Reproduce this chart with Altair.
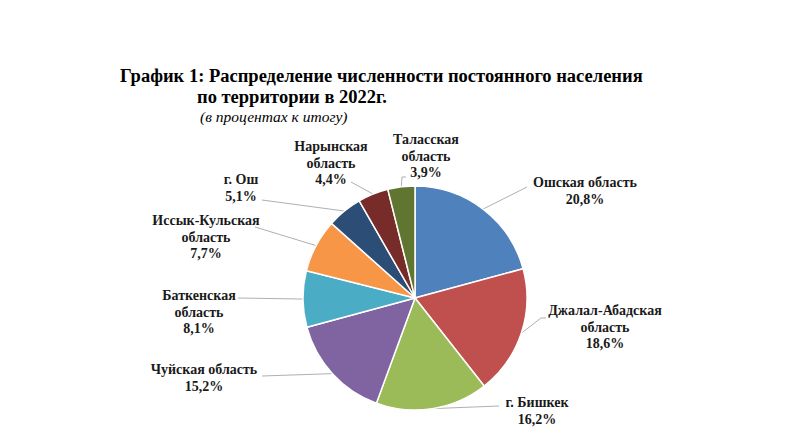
import math
import altair as alt
import pandas as pd

# ---- data ----
regions = ["Ошская область", "Джалал-Абадская область", "г. Бишкек", "Чуйская область",
           "Баткенская область", "Иссык-Кульская область", "г. Ош", "Нарынская область",
           "Таласская область"]
values = [20.8, 18.6, 16.2, 15.2, 8.1, 7.7, 5.1, 4.4, 3.9]
label_texts = ["Ошская область\n20,8%", "Джалал-Абадская\nобласть\n18,6%", "г. Бишкек\n16,2%",
               "Чуйская область\n15,2%", "Баткенская\nобласть\n8,1%", "Иссык-Кульская\nобласть\n7,7%",
               "г. Ош\n5,1%", "Нарынская\nобласть\n4,4%", "Таласская\nобласть\n3,9%"]
colors = ["#4F81BD", "#C0504D", "#9BBB59", "#8064A2", "#4BACC6", "#F79646",
          "#2C4D75", "#772C2A", "#5F7530"]

title1 = "График 1: Распределение численности постоянного населения"
title2 = "по территории в 2022г."
subtitle = "(в процентах к итогу)"

# ---- layout (chart pixel coords) ----
W, H = 775, 423
CX, CY, R = 407, 290, 112
label_pos = [(577, 168), (597, 296), (529, 388), (196, 355), (191, 281), (198, 206), (233, 165), (323, 132), (418, 125)]
leader_elbow = [(519, 179), (533, 310), (491, 398), (254, 368), (230, 290), (247, 219), (254, 192), (343, 174), (394, 169)]
leader_end = [(519, 179), (538, 310), (491, 398), (254, 368), (230, 290), (247, 219), (254, 192), (343, 174), (398, 169)]

total = sum(values)
rows, lrows, trows = [], [], []
cum = 0.0
for i, (r, v) in enumerate(zip(regions, values)):
    mid = (cum + v / 2) / total * 2 * math.pi
    cum += v
    ex, ey = CX + R * math.sin(mid), CY - R * math.cos(mid)
    rows.append({"region": r, "value": v, "idx": i})
    for k, (px, py) in enumerate([(ex, ey), leader_elbow[i], leader_end[i]]):
        lrows.append({"region": r, "k": k, "px": px, "py": py})
    trows.append({"region": r, "text": label_texts[i], "px": label_pos[i][0], "py": label_pos[i][1]})

df = pd.DataFrame(rows)
ldf = pd.DataFrame(lrows)
tdf = pd.DataFrame(trows)

pie = alt.Chart(df).mark_arc(outerRadius=R, stroke="white", strokeWidth=1.5).encode(
    theta=alt.Theta("value:Q", stack=True),
    color=alt.Color("region:N", scale=alt.Scale(domain=regions, range=colors), legend=None),
    order=alt.Order("idx:Q", sort="ascending"),
    x=alt.value(CX), y=alt.value(CY),
)

leaders = alt.Chart(ldf).mark_line(color="#A6A6A6", strokeWidth=0.9).encode(
    x=alt.X("px:Q", scale=None, axis=None),
    y=alt.Y("py:Q", scale=None, axis=None),
    detail="region:N",
    order="k:Q",
)

labels = alt.Chart(tdf).mark_text(
    font="Liberation Serif", fontWeight="bold", fontSize=14, lineBreak="\n", lineHeight=16.5,
    align="center", baseline="top", color="#1a1a1a",
).encode(
    x=alt.X("px:Q", scale=None, axis=None),
    y=alt.Y("py:Q", scale=None, axis=None),
    text="text:N",
)

tdata = pd.DataFrame([
    {"t": title1, "px": 112, "py": 68},
    {"t": title2, "px": 189, "py": 89},
])
titles = alt.Chart(tdata).mark_text(
    font="Liberation Serif", fontWeight="bold", fontSize=18.5, align="left", baseline="middle", color="#000000",
).encode(x=alt.X("px:Q", scale=None, axis=None), y=alt.Y("py:Q", scale=None, axis=None), text="t:N")

sdata = pd.DataFrame([{"t": subtitle, "px": 192, "py": 109}])
sub = alt.Chart(sdata).mark_text(
    font="Liberation Serif", fontStyle="italic", fontSize=15.5, align="left", baseline="middle", color="#000000",
).encode(x=alt.X("px:Q", scale=None, axis=None), y=alt.Y("py:Q", scale=None, axis=None), text="t:N")

chart = alt.layer(leaders, pie, labels, titles, sub).properties(
    width=W, height=H, autosize=alt.AutoSizeParams(type="fit", contains="padding"), padding=0,
).configure_view(stroke=None)

chart.save("out.html", embed_options={"renderer": "svg", "actions": False})
